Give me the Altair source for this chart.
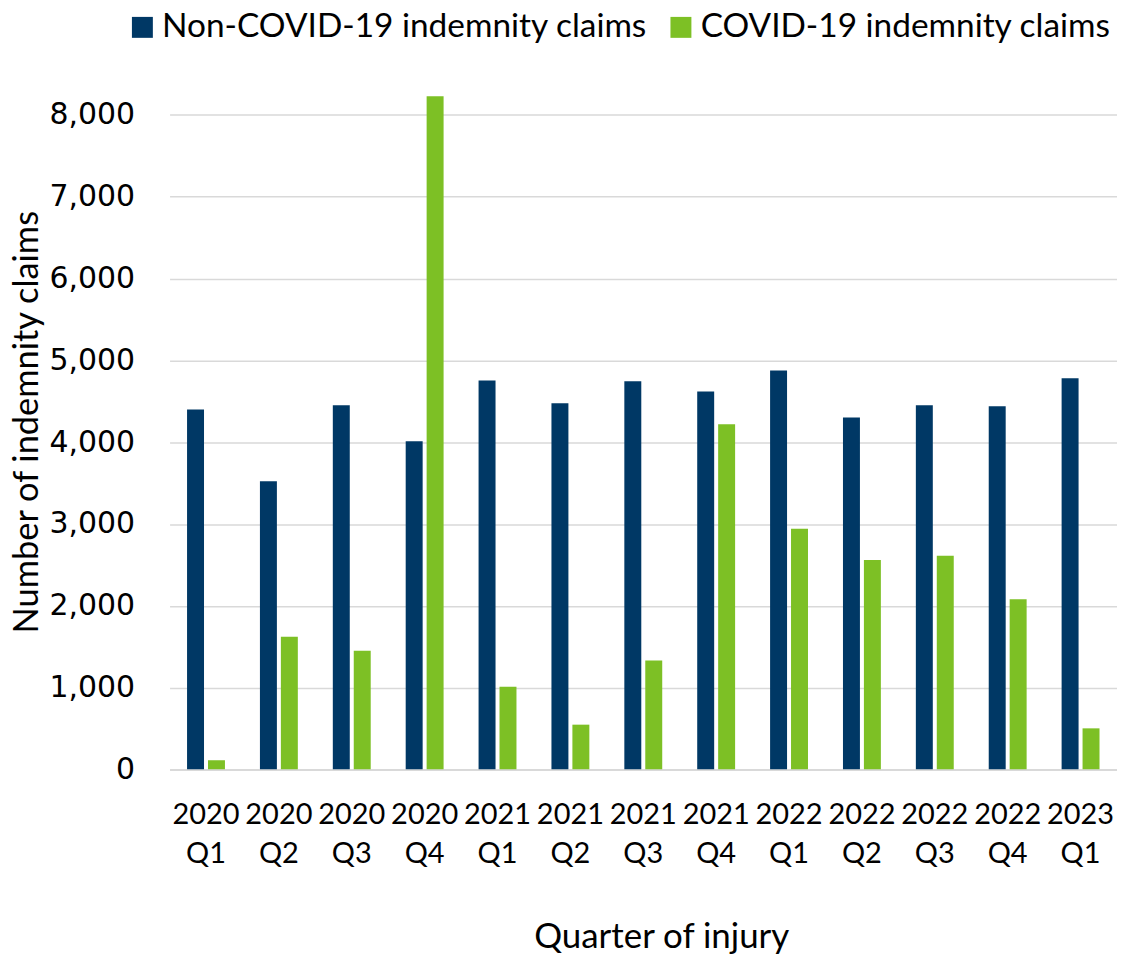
import altair as alt
import pandas as pd

quarters = ["2020 Q1", "2020 Q2", "2020 Q3", "2020 Q4", "2021 Q1", "2021 Q2", "2021 Q3",
            "2021 Q4", "2022 Q1", "2022 Q2", "2022 Q3", "2022 Q4", "2023 Q1"]
non_covid = [4400, 3520, 4450, 4010, 4755, 4475, 4745, 4620, 4875, 4300, 4450, 4440, 4780]
covid = [110, 1620, 1450, 8230, 1010, 545, 1330, 4220, 2940, 2560, 2610, 2080, 500]
series = ["Non-COVID-19 indemnity claims", "COVID-19 indemnity claims"]
colors = ["#003865", "#7DC025"]
y_ticks = [0, 1000, 2000, 3000, 4000, 5000, 6000, 7000, 8000]

rows = []
for q, a, b in zip(quarters, non_covid, covid):
    rows.append({"quarter": q, "series": series[0], "value": a})
    rows.append({"quarter": q, "series": series[1], "value": b})
df = pd.DataFrame(rows)

NARROW = "Lato, sans-serif"

chart = alt.Chart(df).mark_bar().encode(
    x=alt.X("quarter:N", sort=quarters,
            scale=alt.Scale(paddingInner=0.48, paddingOuter=0.24),
            axis=alt.Axis(title="Quarter of injury", labelAngle=0,
                          labelExpr="split(datum.label, ' ')",
                          labelFont=NARROW, labelFontSize=29, labelColor="black",
                          labelLineHeight=40, labelPadding=31, labelBaseline="top",
                          ticks=False, domainColor="#d9d9d9", domainWidth=1.5,
                          titleFont=NARROW, titleFontSize=35, titleFontWeight="normal",
                          titleColor="black", titleX=493, titleY=168,
                          titleBaseline="middle", titleAlign="center")),
    xOffset=alt.XOffset("series:N", sort=series,
                        scale=alt.Scale(paddingInner=0.19)),
    y=alt.Y("value:Q",
            scale=alt.Scale(domain=[0, 8250], nice=False),
            axis=alt.Axis(title="Number of indemnity claims", values=y_ticks,
                          labelExpr="format(datum.value, ',.0f')",
                          labelFont="DejaVu Sans", labelFontSize=30, labelColor="black",
                          labelPadding=35, ticks=False, domain=False,
                          gridColor="#d9d9d9", gridWidth=1.5,
                          titleFont=NARROW, titleFontSize=34.5, titleFontWeight="normal",
                          titleColor="black", titleX=-142, titleY=328, titleAngle=-90,
                          titleAlign="center", titleBaseline="middle")),
    color=alt.Color("series:N", sort=series,
                    scale=alt.Scale(domain=series, range=colors),
                    legend=alt.Legend(title=None, orient="none", legendX=-44, legendY=-84.5,
                                      direction="horizontal", symbolType="square",
                                      symbolSize=441, symbolStrokeWidth=0,
                                      labelFont=NARROW, labelFontSize=33.5,
                                      labelColor="black", labelOffset=3,
                                      columnPadding=16, labelLimit=1000)),
).properties(
    width=950, height=676.5,
    autosize=alt.AutoSizeParams(type="none"),
    padding={"left": 162, "top": 85.5, "right": 0, "bottom": 195},
).configure_view(stroke=None)

chart.save("out.html", embed_options={"renderer": "svg", "actions": False})
